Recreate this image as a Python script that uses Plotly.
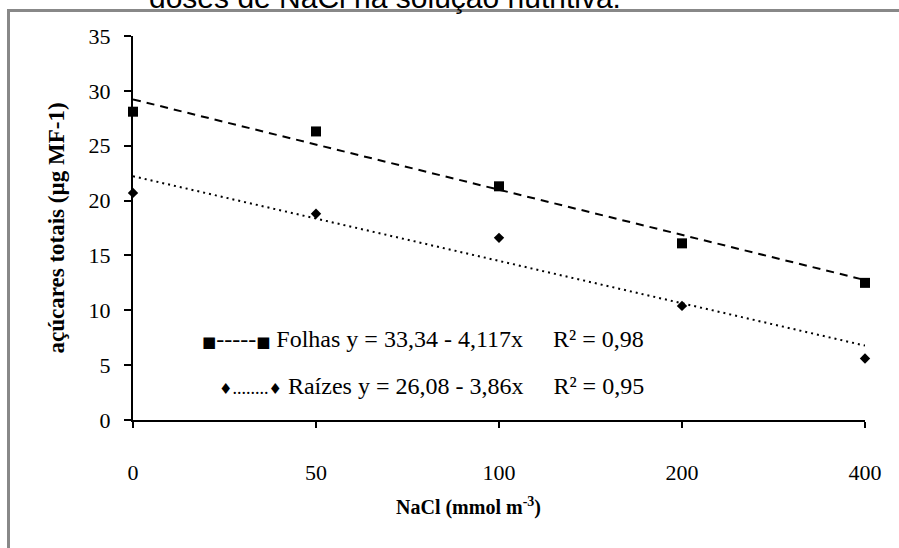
import plotly.graph_objects as go

# ---- data ----
categories = ["0", "50", "100", "200", "400"]
folhas = [28.1, 26.3, 21.3, 16.1, 12.5]
raizes = [20.7, 18.8, 16.6, 10.4, 5.6]
# trendline coefficients shown on the chart (y = a + b*x, x = 1..5)
folhas_coef = (33.34, -4.117)
raizes_coef = (26.08, -3.86)
folhas_label = "Folhas y = 33,34 - 4,117x\u00a0\u00a0\u00a0\u00a0\u00a0R² = 0,98"
raizes_label = "Raízes y = 26,08 - 3,86x\u00a0\u00a0\u00a0\u00a0\u00a0R² = 0,95"
y_ticks = [0, 5, 10, 15, 20, 25, 30, 35]

# ---- layout geometry ----
W, H = 899, 548
L, R, T, B = 133, 34, 36, 128
PW, PH = W - L - R, H - T - B


def px_x(p):
    return (p - L) / PW


def px_y(p):
    return 1 - (p - T) / PH


def trend(coef):
    a, b = coef
    return [a + b * (i + 1) for i in range(len(categories))]


SERIF = "Liberation Serif, Times New Roman, serif"

fig = go.Figure()
fig.add_trace(go.Scatter(x=categories, y=trend(folhas_coef), mode="lines",
                         line=dict(color="black", width=2, dash="8px,6px"),
                         showlegend=False, hoverinfo="skip"))
fig.add_trace(go.Scatter(x=categories, y=trend(raizes_coef), mode="lines",
                         line=dict(color="black", width=2, dash="2px,4px"),
                         showlegend=False, hoverinfo="skip"))
fig.add_trace(go.Scatter(x=categories, y=folhas, mode="markers", name="Folhas",
                         marker=dict(symbol="square", size=10, color="black"),
                         cliponaxis=False, showlegend=False))
fig.add_trace(go.Scatter(x=categories, y=raizes, mode="markers", name="Raízes",
                         marker=dict(symbol="diamond", size=8, color="black"),
                         cliponaxis=False, showlegend=False))

sym = "<span style='font-family:DejaVu Sans;font-size:15px'>{}</span>"
annotations = [
    dict(text=sym.format("■") + "-----" + sym.format("■") + " " + folhas_label,
         xref="paper", yref="paper", x=px_x(200), y=px_y(339),
         xanchor="left", yanchor="middle", showarrow=False,
         font=dict(family=SERIF, size=24, color="black")),
    dict(text=sym.format("♦") + "<span style='font-size:18px'>........</span>" + sym.format("♦") + " " + raizes_label,
         xref="paper", yref="paper", x=px_x(217), y=px_y(386),
         xanchor="left", yanchor="middle", showarrow=False,
         font=dict(family=SERIF, size=24, color="black")),
    dict(text="<b>NaCl (mmol m<sup>-3</sup>)</b>",
         xref="paper", yref="paper", x=px_x(468), y=px_y(506),
         xanchor="center", yanchor="middle", showarrow=False,
         font=dict(family=SERIF, size=20, color="black")),
    dict(text="doses de NaCl na solução nutritiva.",
         xref="paper", yref="paper", x=px_x(385), y=px_y(8),
         xanchor="center", yanchor="bottom", showarrow=False, yshift=-8,
         font=dict(family="Liberation Sans, Arial, sans-serif", size=30, color="black")),
]

shapes = [
    dict(type="rect", xref="paper", yref="paper",
         x0=px_x(8.5), x1=px_x(910), y0=px_y(570), y1=px_y(10.5),
         line=dict(color="#888888", width=3), fillcolor="rgba(0,0,0,0)", layer="below"),
]

fig.update_layout(
    width=W, height=H,
    margin=dict(l=L, r=R, t=T, b=B, autoexpand=False),
    paper_bgcolor="white", plot_bgcolor="white",
    showlegend=False,
    annotations=annotations, shapes=shapes,
    xaxis=dict(type="category", range=[0, 4], showgrid=False, zeroline=False,
               showline=True, linecolor="black", linewidth=2,
               ticks="outside", ticklen=6, tickwidth=2, tickcolor="black",
               ticklabelstandoff=26,
               tickfont=dict(family=SERIF, size=22, color="black")),
    yaxis=dict(range=[0, 35], tickvals=y_ticks, showgrid=False, zeroline=False,
               showline=True, linecolor="black", linewidth=2,
               ticks="outside", ticklen=7, tickwidth=2, tickcolor="black",
               ticklabelstandoff=9,
               tickfont=dict(family=SERIF, size=22, color="black"),
               title=dict(text="<b>açúcares totais (µg MF-1)</b>", standoff=18,
                          font=dict(family=SERIF, size=23, color="black"))),
)

fig.write_html("out.html", config={"displayModeBar": False},
               post_script="document.body.style.margin='0';document.body.style.overflow='hidden';")
